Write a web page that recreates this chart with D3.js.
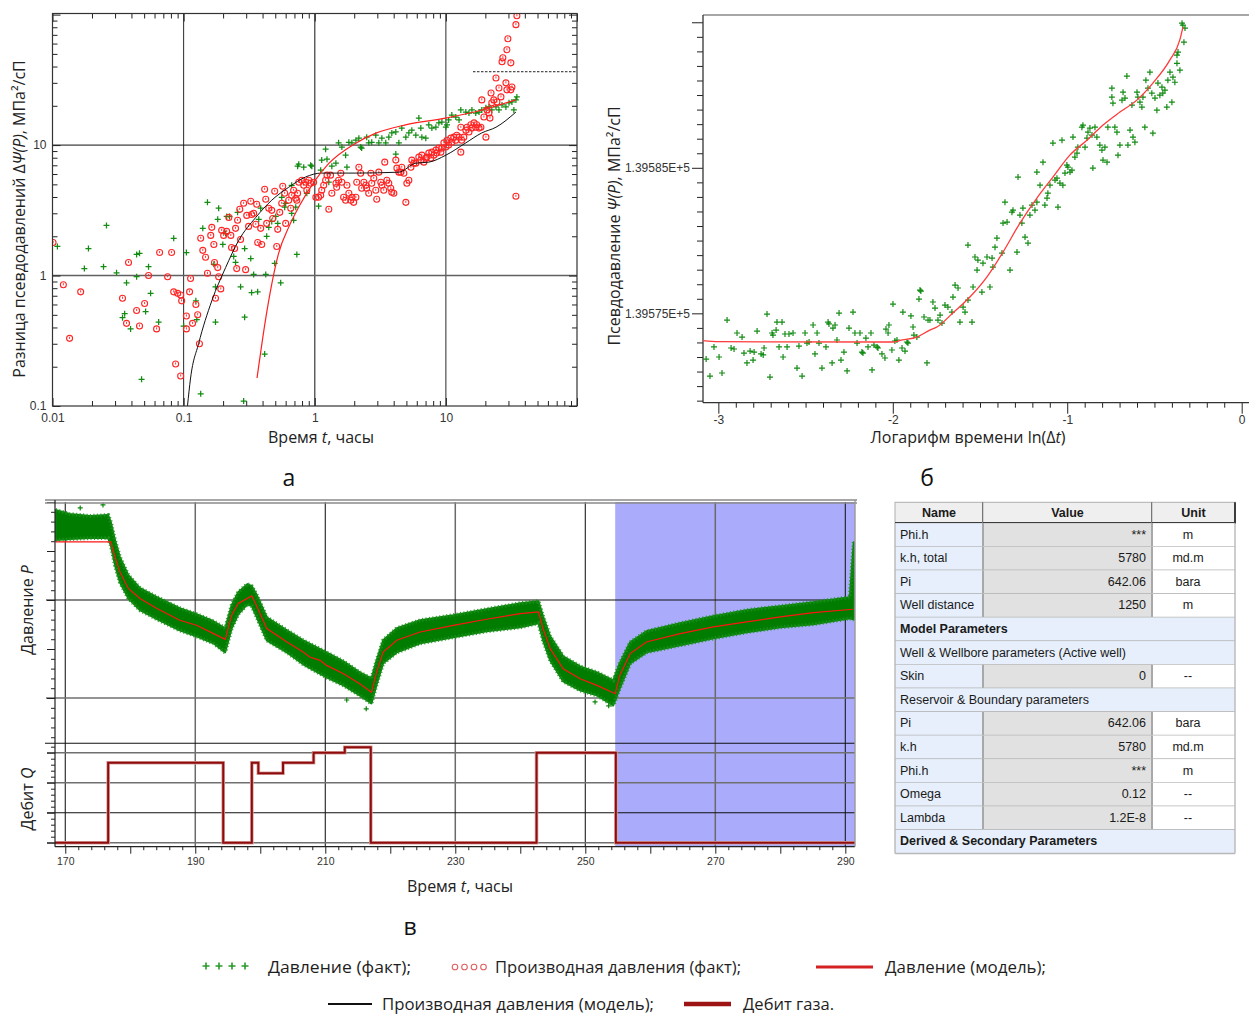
<!DOCTYPE html>
<html lang="ru">
<head>
<meta charset="utf-8">
<title>Интерпретация ГДИС</title>
<script src="https://cdn.jsdelivr.net/npm/d3@7/dist/d3.min.js"></script>
<style>
html,body{margin:0;padding:0;background:#fff;}
svg{display:block;}
</style>
</head>
<body>
<svg id="fig" width="1249" height="1015" xmlns="http://www.w3.org/2000/svg"></svg>
<script>
// ---------- Panel а: log-log diagnostic plot, [t (h), ΔΨ (МПа²/сП)] ----------
const pressureChangeFact = [
[0.0109,1.67],[0.0175,1.13],[0.0188,1.61],[0.0245,1.17],[0.0258,2.42],[0.0308,1.05],[0.0367,0.88],[0.0355,0.51],[0.0342,0.475],[0.0394,0.39],
[0.0438,1.45],[0.0461,1.48],[0.0438,0.98],[0.0513,0.53],[0.054,1.17],[0.056,0.73],[0.0478,0.16],[0.0645,0.44],[0.084,1.93],[0.105,1.5],
[0.1,0.41],[0.124,0.64],[0.126,0.46],[0.135,0.124],[0.14,2.3],[0.152,3.64],[0.175,0.44],[0.17,1.22],[0.175,0.82],[0.185,3.28],
[0.182,2.7],[0.199,1.73],[0.209,2.1],[0.213,2.84],[0.224,2.84],[0.241,1.4],[0.249,1.26],[0.258,3.05],[0.272,0.82],[0.287,0.109],
[0.292,0.48],[0.292,1.61],[0.325,1.35],[0.33,0.74],[0.342,1.02],[0.367,0.75],[0.374,2.7],[0.387,3.28],[0.415,0.25],[0.423,1.02],
[0.43,2.0],[0.446,2.34],[0.47,2.6],[0.495,1.24],[0.504,2.84],[0.522,2.51],[0.55,0.88],[0.56,3.98],[0.59,3.34],[0.6,3.58],
[0.667,4.92],[0.69,2.65],[0.73,1.45],[0.74,6.89],[0.755,7.14],[0.824,6.77],[0.716,3.34],[0.667,3.0],[0.87,4.27],[0.93,7.02],
[0.95,6.89],[1.07,3.4],[1.11,6.42],[1.13,7.67],[1.24,7.8],[1.21,9.31],[1.28,5.19],[1.35,6.89],[1.45,7.27],[1.52,10.4],
[1.61,9.66],[1.72,8.37],[1.76,6.77],[1.82,10.5],[1.92,10.4],[2.06,10.9],[2.17,11.3],[2.24,9.66],[2.28,9.48],[2.49,11.5],
[2.58,10.4],[2.72,10.5],[2.92,11.9],[3.08,10.4],[3.25,11.3],[3.48,10.4],[3.67,11.5],[3.87,12.4],[4.15,12.6],[4.15,8.53],
[4.38,10.4],[4.61,13.5],[4.95,11.5],[5.22,12.4],[5.5,13.0],[5.9,11.9],[6.22,16.1],[6.44,13.5],[6.56,11.5],[7.03,11.3],
[7.41,14.3],[7.82,13.5],[8.39,13.7],[8.84,14.8],[9.32,15.0],[10,13.7],[10.2,14.3],[10.5,15.6],[11.1,17.0],[11.9,16.4],
[12.6,15.6],[13.0,18.6],[14.2,17.9],[15.0,17.6],[15.8,18.6],[16.9,17.6],[17.9,17.9],[18.8,18.6],[20.2,19.3],[21.3,19.6],
[22.4,18.6],[24.1,19.6],[25.4,18.6],[26.8,20.3],[28.7,19.6],[30.3,21.1],[31.9,21.4],[34.2,22.2],[34.8,23.4],[33.0,18.6]
];
const derivativeFact = [
[0.0101,1.79],[0.0121,0.85],[0.0135,0.33],[0.0164,0.75],[0.0342,0.67],[0.0367,0.43],[0.038,1.26],[0.0438,0.54],[0.0461,0.41],[0.0504,0.61],
[0.054,1.0],[0.0622,0.39],[0.0656,1.5],[0.0755,0.98],[0.081,1.5],[0.084,0.75],[0.09,0.73],[0.0949,0.71],[0.0966,0.64],[0.0869,0.21],
[0.0949,0.17],[0.105,0.49],[0.105,0.39],[0.111,0.75],[0.113,0.95],[0.117,0.43],[0.124,0.6],[0.128,0.5],[0.132,0.3],[0.135,1.93],
[0.14,1.56],[0.147,1.38],[0.152,1.04],[0.161,2.03],[0.164,2.34],[0.17,1.73],[0.172,1.26],[0.175,0.67],[0.185,0.98],[0.192,0.79],
[0.182,1.15],[0.195,2.22],[0.202,2.03],[0.213,2.18],[0.221,2.79],[0.229,2.03],[0.232,1.64],[0.245,1.61],[0.249,2.3],[0.254,1.13],
[0.258,2.65],[0.268,3.22],[0.272,1.89],[0.287,3.58],[0.297,1.11],[0.303,2.89],[0.313,2.38],[0.325,3.71],[0.33,2.94],[0.342,3.0],
[0.355,2.47],[0.361,3.52],[0.367,1.79],[0.387,2.3],[0.394,1.73],[0.415,4.59],[0.423,3.84],[0.43,2.51],[0.446,3.28],[0.47,3.16],
[0.478,2.74],[0.495,4.43],[0.513,1.67],[0.522,2.26],[0.541,3.05],[0.56,3.58],[0.57,4.84],[0.59,4.27],[0.6,2.51],[0.633,3.78],
[0.656,3.28],[0.667,4.12],[0.69,4.51],[0.716,3.91],[0.74,4.27],[0.73,3.78],[0.755,5.19],[0.796,5.38],[0.824,4.92],[0.853,5.19],
[0.87,4.51],[0.9,5.38],[0.93,5.1],[0.98,5.19],[1.02,3.98],[1.07,3.98],[1.11,4.12],[1.13,4.51],[1.17,4.92],[1.21,5.38],
[1.24,5.88],[1.28,3.22],[1.32,5.88],[1.35,4.27],[1.45,5.1],[1.47,4.75],[1.52,5.38],[1.58,6.09],[1.61,5.19],[1.66,3.98],
[1.72,3.78],[1.76,4.92],[1.82,4.27],[1.88,3.78],[1.92,3.98],[1.98,3.64],[2.06,3.98],[2.09,5.19],[2.17,6.77],[2.24,6.09],
[2.28,4.67],[2.37,5.19],[2.45,4.92],[2.49,4.67],[2.58,4.27],[2.68,6.09],[2.72,5.1],[2.82,5.57],[2.92,4.51],[2.97,3.84],
[3.08,6.2],[3.19,5.19],[3.25,4.92],[3.36,4.51],[3.42,7.4],[3.55,5.38],[3.67,5.1],[3.8,4.67],[3.87,4.35],[4.01,4.27],
[4.15,7.67],[4.23,6.66],[4.38,6.2],[4.53,6.2],[4.61,6.77],[4.78,6.09],[4.95,3.64],[5.04,5.1],[5.22,5.38],[5.41,6.77],
[5.5,7.67],[5.7,7.27],[5.9,7.27],[6.22,8.09],[6.44,7.67],[6.56,8.37],[6.79,7.4],[7.03,7.94],[7.16,8.09],[7.41,8.68],
[7.68,7.94],[7.82,8.83],[8.1,8.37],[8.39,9.15],[8.53,8.68],[8.84,9.48],[9.16,8.83],[9.32,9.48],[9.66,10.4],[10,9.66],
[10.2,10.9],[10.5,10.0],[10.9,11.3],[11.1,10.5],[11.5,11.5],[11.9,10.9],[12.1,11.9],[12.6,11.5],[13.0,8.83],[13.0,13.7],
[13.2,10.9],[13.7,11.5],[14.2,13.0],[14.5,13.7],[15.0,12.6],[15.5,14.3],[15.8,13.5],[16.4,14.8],[16.9,13.7],[17.2,14.3],
[17.9,13.5],[18.5,13.7],[18.8,22.2],[19.5,16.4],[20.2,11.5],[20.6,18.6],[21.3,17.6],[21.7,16.1],[22.1,25.1],[22.4,21.1],
[23.2,22.2],[24.1,32.7],[24.5,21.4],[25.4,27.4],[26.3,23.4],[26.8,43.5],[27.2,46.7],[28.7,30.0],[29.2,26.5],[29.2,53.8],
[29.7,65.3],[31.3,42.7],[31.3,26.5],[31.9,27.9],[34.2,83.8],[34.8,98],[34.2,4.05]
];
const pressureChangeModel = [
[0.363,0.164],[0.42,0.45],[0.47,0.86],[0.53,1.48],[0.633,2.35],[0.755,3.35],[1.01,5.38],[1.28,7.23],[2.04,10.3],[2.9,12.3],
[4.92,14.3],[9.95,16.1],[16.8,18.0],[34,22.2]
];
const derivativeModel = [
[0.107,0.1],[0.113,0.164],[0.13,0.3],[0.164,0.64],[0.209,1.15],[0.263,1.86],[0.355,2.79],[0.47,3.78],[0.633,4.75],[0.853,5.7],
[1.13,6.1],[2.06,6.1],[4.38,6.2],[5.9,7.27],[7.41,7.4],[10,8.37],[14.2,10.4],[18.8,12.4],[24.1,13.7],[34.2,17.9]
];
const stabilisationLevel = {from: 16.1, to: 100, value: 36.5};
const xTickLabelsA = [0.01, 0.1, 1, 10];
const yTickLabelsA = [0.1, 1, 10];

// ---------- Panel б: semi-log plot, [ln(Δt), Ψ (МПа²/сП)] ----------
const psiFact = [
[-3.070,139571.86],[-3.048,139570.69],[-3.025,139572.69],[-2.996,139572.00],[-2.979,139570.90],[-2.950,139574.54],[-2.927,139572.62],[-2.910,139572.55],
[-2.893,139573.65],[-2.864,139573.37],[-2.853,139572.27],[-2.836,139571.59],[-2.818,139572.41],[-2.801,139571.79],[-2.795,139572.34],[-2.778,139573.78],
[-2.755,139572.21],[-2.743,139572.14],[-2.738,139572.62],[-2.721,139574.95],[-2.704,139570.62],[-2.692,139573.65],[-2.687,139573.51],[-2.669,139573.85],
[-2.664,139574.40],[-2.652,139572.69],[-2.635,139574.40],[-2.629,139572.00],[-2.618,139573.58],[-2.606,139572.69],[-2.595,139573.58],[-2.572,139573.65],
[-2.549,139571.24],[-2.538,139572.75],[-2.520,139570.69],[-2.503,139573.65],[-2.492,139572.96],[-2.480,139573.03],[-2.457,139574.20],[-2.446,139572.21],
[-2.434,139573.65],[-2.423,139572.96],[-2.406,139571.24],[-2.383,139572.69],[-2.371,139574.40],[-2.366,139574.27],[-2.348,139571.59],[-2.343,139573.99],
[-2.331,139574.20],[-2.320,139573.17],[-2.308,139575.02],[-2.297,139571.79],[-2.280,139572.34],[-2.262,139571.04],[-2.251,139573.99],[-2.228,139575.09],
[-2.217,139573.65],[-2.205,139572.96],[-2.188,139573.65],[-2.177,139572.34],[-2.171,139572.27],[-2.154,139573.30],[-2.142,139572.69],[-2.125,139573.65],
[-2.119,139571.11],[-2.108,139572.82],[-2.090,139572.69],[-2.085,139572.62],[-2.062,139572.21],[-2.045,139571.93],[-2.039,139573.92],[-2.027,139573.65],
[-2.022,139574.20],[-2.005,139572.48],[-1.999,139575.64],[-1.988,139573.10],[-1.976,139573.17],[-1.965,139571.79],[-1.947,139572.62],[-1.942,139575.09],
[-1.930,139572.41],[-1.919,139573.03],[-1.913,139572.96],[-1.896,139574.82],[-1.884,139574.06],[-1.879,139573.51],[-1.862,139573.37],[-1.850,139575.98],
[-1.839,139576.53],[-1.821,139574.75],[-1.804,139571.59],[-1.798,139574.54],[-1.844,139576.60],[-1.787,139574.54],[-1.770,139575.78],[-1.758,139575.36],
[-1.741,139574.54],[-1.729,139574.88],[-1.718,139574.33],[-1.701,139575.57],[-1.684,139575.43],[-1.661,139575.09],[-1.655,139576.12],[-1.643,139576.94],
[-1.626,139576.74],[-1.615,139574.40],[-1.597,139575.43],[-1.586,139575.09],[-1.569,139579.69],[-1.569,139575.91],[-1.546,139574.40],[-1.540,139576.81],
[-1.529,139578.87],[-1.517,139577.97],[-1.512,139578.66],[-1.489,139576.46],[-1.483,139578.45],[-1.460,139578.87],[-1.443,139576.81],[-1.431,139578.80],
[-1.426,139578.18],[-1.414,139579.55],[-1.403,139580.17],[-1.374,139579.14],[-1.368,139581.20],[-1.357,139582.64],[-1.345,139581.27],[-1.328,139577.97],
[-1.317,139581.95],[-1.311,139582.09],[-1.288,139579.21],[-1.282,139584.36],[-1.271,139581.75],[-1.260,139581.20],[-1.254,139582.23],[-1.242,139580.24],
[-1.225,139579.83],[-1.214,139581.75],[-1.202,139582.44],[-1.185,139582.09],[-1.174,139582.64],[-1.174,139584.71],[-1.156,139583.81],[-1.139,139585.39],
[-1.128,139582.44],[-1.116,139582.92],[-1.111,139583.26],[-1.099,139583.81],[-1.082,139586.70],[-1.070,139584.16],[-1.059,139584.29],[-1.053,139582.30],
[-1.042,139583.95],[-1.030,139586.90],[-1.025,139583.81],[-1.013,139584.64],[-1.002,139585.19],[-0.996,139585.05],[-0.984,139584.71],[-0.973,139584.84],
[-0.967,139587.11],[-0.956,139585.74],[-0.944,139586.01],[-0.939,139586.42],[-0.916,139587.79],[-0.910,139587.93],[-0.898,139586.42],[-0.887,139587.04],
[-0.881,139587.45],[-0.870,139587.73],[-0.858,139587.25],[-0.853,139584.98],[-0.841,139587.79],[-0.830,139587.11],[-0.813,139586.56],[-0.801,139586.22],
[-0.795,139585.53],[-0.784,139586.42],[-0.772,139585.39],[-0.767,139587.79],[-0.744,139590.47],[-0.744,139589.86],[-0.738,139589.44],[-0.727,139587.79],
[-0.715,139587.45],[-0.709,139585.87],[-0.698,139586.56],[-0.686,139589.65],[-0.680,139590.20],[-0.669,139589.79],[-0.658,139591.30],[-0.652,139586.56],
[-0.640,139587.59],[-0.629,139589.31],[-0.623,139587.11],[-0.612,139586.76],[-0.600,139590.20],[-0.595,139589.86],[-0.583,139589.51],[-0.572,139589.17],
[-0.566,139589.86],[-0.555,139587.79],[-0.549,139591.02],[-0.537,139590.47],[-0.526,139591.57],[-0.515,139590.13],[-0.509,139587.38],[-0.497,139589.79],
[-0.486,139588.96],[-0.480,139590.82],[-0.469,139589.99],[-0.457,139590.54],[-0.452,139590.13],[-0.440,139590.34],[-0.429,139589.17],[-0.423,139591.02],
[-0.411,139591.57],[-0.400,139589.51],[-0.394,139591.23],[-0.383,139590.88],[-0.371,139592.18],[-0.371,139592.74],[-0.365,139592.95],[-0.354,139591.71],
[-0.342,139594.94],[-0.337,139594.80],[-0.331,139593.63],[-0.325,139594.60]
];
const psiModel = [
[-3.088,139573.12],[-3.0,139573.05],[-2.0,139573.03],[-1.945,139573.17],[-1.862,139573.37],[-1.788,139573.85],[-1.747,139574.06],[-1.656,139575.02],
[-1.558,139576.12],[-1.461,139577.49],[-1.368,139579.21],[-1.271,139581.2],[-1.174,139582.92],[-1.082,139584.36],[-0.985,139585.87],[-0.887,139586.9],
[-0.796,139587.93],[-0.698,139588.83],[-0.601,139589.65],[-0.509,139590.82],[-0.412,139592.4],[-0.355,139593.77],[-0.337,139594.66]
];
const psiTickLabels = [139575, 139585];

// ---------- Panel в: history plot ----------
// measured pressure: envelope of the dense gauge record, bar
const historyTime  = [168.5,170.7,173.8,176.6,177.0,177.65,178.4,179.7,181.5,184.1,187.6,190.2,192.8,194.6,195.6,196.6,198.0,198.7,199.4,201.0,204.1,206.6,210.2,212.8,215.3,217.1,217.9,218.9,221.0,224.6,229.7,234.8,240.0,242.8,243.5,244.6,246.6,249.2,251.8,254.3,255.3,256.9,259.4,264.6,269.7,274.8,280.0,285.1,290.7,291.3];
const historyHigh  = [639.18,638.77,638.57,638.67,637.96,636.11,634.38,632.54,631.21,630.29,629.16,628.55,627.83,627.12,629.47,630.80,631.62,631.41,630.59,628.24,626.91,625.89,624.66,623.74,622.62,622.0,623.84,625.89,627.12,627.93,628.45,629.06,629.67,629.88,628.34,626.30,624.25,623.23,622.62,621.80,623.54,625.69,626.81,627.63,628.34,628.96,629.37,629.78,630.29,635.9];
const historyLow   = [636.11,636.22,636.32,636.32,635.60,633.56,631.82,630.18,628.96,628.04,626.91,626.30,625.58,624.66,627.12,628.55,629.57,629.37,628.34,625.89,624.66,623.44,622.11,621.29,620.27,619.45,621.39,623.54,624.66,625.58,626.20,626.81,627.22,627.63,625.89,623.84,621.70,620.78,620.27,619.24,620.98,623.54,624.66,625.38,626.09,626.71,627.22,627.53,628.14,628.0];
const historyOutliers = [[172.3,639.4],[175.8,639.7],[216.3,618.9],[213.3,619.8],[251.5,619.6],[253.6,619.2]];
// simulated pressure, bar
const modelTime     = [168.5,177.0,177.65,178.4,179.7,181.5,184.1,187.6,190.2,192.8,194.6,195.6,196.6,198.7,199.4,201.0,204.1,206.6,207.6,209.2,210.2,212.8,215.3,217.1,217.9,218.9,221.0,224.6,229.7,234.8,240.0,242.8,243.5,244.6,246.6,249.2,251.8,254.6,255.3,256.9,259.4,264.6,269.7,274.8,280.0,285.1,291.2];
const modelPressure = [635.94,635.94,634.41,632.87,631.18,630.16,629.13,627.93,627.42,626.57,625.99,628.45,629.64,630.42,629.47,627.09,625.72,624.69,624.18,623.84,623.33,622.48,621.46,620.60,622.65,624.69,625.89,626.74,627.42,628.04,628.62,628.78,627.09,625.04,622.99,621.97,621.29,620.44,622.31,624.53,625.72,626.57,627.25,627.76,628.27,628.72,629.06];
// gas rate history (step after each time)
const rateTime  = [168.4,176.6,194.3,198.7,199.7,203.5,208.2,213.0,217.0,242.5,254.7,291.5];
const rateValue = [0,80,0,80,69.4,80,90,95.4,0,90,0,0];
const analysedFrom = 254.6;
const timeTicksC = d3.range(170, 291, 20);

// ---------- Parameter table ----------
const tableHeader = ["Name","Value","Unit"];
const tableRows = [
  {name:"Phi.h", value:"***", unit:"m"},
  {name:"k.h, total", value:"5780", unit:"md.m"},
  {name:"Pi", value:"642.06", unit:"bara"},
  {name:"Well distance", value:"1250", unit:"m"},
  {section:"Model Parameters", bold:true},
  {section:"Well & Wellbore parameters (Active well)"},
  {name:"Skin", value:"0", unit:"--"},
  {section:"Reservoir & Boundary parameters"},
  {name:"Pi", value:"642.06", unit:"bara"},
  {name:"k.h", value:"5780", unit:"md.m"},
  {name:"Phi.h", value:"***", unit:"m"},
  {name:"Omega", value:"0.12", unit:"--"},
  {name:"Lambda", value:"1.2E-8", unit:"--"},
  {section:"Derived & Secondary Parameters", bold:true}
];

// ---------- Legend ----------
const legendItems = [
  {kind:"plus",   label:"Давление (факт);",               x:202, y:967, tx:268, w:143},
  {kind:"circle", label:"Производная давления (факт);",   x:452, y:967, tx:495, w:246},
  {kind:"line",   label:"Давление (модель);",             x:816, y:967, tx:885, w:161, x2:873, color:"#d42222", sw:3},
  {kind:"line",   label:"Производная давления (модель);", x:328, y:1004, tx:382, w:272, x2:372, color:"#111", sw:2},
  {kind:"line",   label:"Дебит газа.",                    x:684, y:1004, tx:743, w:91,  x2:731, color:"#9e1414", sw:4.5}
];

// =====================================================================
const svg = d3.select("#fig");
const defs = svg.append("defs");
const SANS = "'Open Sans','DejaVu Sans',sans-serif";
const ARIAL = "'Liberation Sans',Arial,sans-serif";
const GREEN = "#138c13";
const RED = "#ff2525";

const plusPath = (x, y, r) => `M${x - r},${y}H${x + r}M${x},${y - r}V${y + r}`;
const isDecade = v => Math.abs(Math.log10(v) - Math.round(Math.log10(v))) < 1e-9;

function logTicks(lo, hi) {
  const out = [];
  for (let e = Math.floor(Math.log10(lo)); e <= Math.ceil(Math.log10(hi)); e++) {
    for (let k = 1; k < 10; k++) {
      const v = +(k * Math.pow(10, e)).toPrecision(3);
      if (v >= lo * 0.999 && v <= hi * 1.001) out.push(v);
    }
  }
  return out;
}

function richText(parent, x, y, parts, size, rotate) {
  const t = parent.append("text")
    .attr("transform", `translate(${x},${y})` + (rotate ? " rotate(-90)" : ""))
    .attr("text-anchor", "middle").attr("dy", "0.35em")
    .attr("font-family", SANS).attr("font-size", size).attr("fill", "#222");
  parts.forEach(p => {
    const s = t.append("tspan").text(p[0]);
    if (p[1]) s.attr("font-style", "italic");
  });
  return t;
}

function styleAxis(g) {
  g.select(".domain").remove();
  g.selectAll(".tick line").attr("stroke", "#222").attr("stroke-width", 1);
  g.selectAll(".tick text").attr("font-family", ARIAL).attr("fill", "#333");
}

// ===================== Panel а =====================
const A = {l: 52.5, r: 577, t: 13.5, b: 406};
const xA = d3.scaleLog().domain([0.01, 100]).range([A.l, A.r]);
const yA = d3.scaleLog().domain([0.1, 102]).range([A.b, A.t]);
defs.append("clipPath").attr("id", "clipA").append("rect")
  .attr("x", A.l).attr("y", A.t).attr("width", A.r - A.l).attr("height", A.b - A.t);
const gA = svg.append("g");

gA.selectAll(".vgA").data([0.1, 1, 10]).join("line")
  .attr("x1", d => xA(d)).attr("x2", d => xA(d)).attr("y1", A.t).attr("y2", A.b)
  .attr("stroke", d => d === 1 ? "#555" : "#2a2a2a").attr("stroke-width", d => d === 1 ? 1.4 : 1);
gA.selectAll(".hgA").data([1, 10]).join("line")
  .attr("x1", A.l).attr("x2", A.r).attr("y1", d => yA(d)).attr("y2", d => yA(d))
  .attr("stroke", d => d === 1 ? "#606060" : "#111").attr("stroke-width", d => d === 1 ? 1.5 : 1);

const xTicksA = logTicks(0.01, 100);
const yTicksA = logTicks(0.1, 100);
const fmtX = v => xTickLabelsA.includes(v) ? String(v) : "";
const fmtY = v => yTickLabelsA.includes(v) ? String(v) : "";

const axA1 = gA.append("g").attr("transform", `translate(0,${A.b})`)
  .call(d3.axisBottom(xA).tickValues(xTicksA).tickSizeInner(-5).tickSizeOuter(0).tickPadding(7).tickFormat(fmtX));
styleAxis(axA1);
axA1.selectAll(".tick line").attr("y2", d => isDecade(d) ? -8 : -5);
axA1.selectAll(".tick text").attr("font-size", 12);

const axA2 = gA.append("g").attr("transform", `translate(0,${A.t})`)
  .call(d3.axisTop(xA).tickValues(xTicksA).tickSizeInner(-5).tickSizeOuter(0).tickFormat(""));
styleAxis(axA2);
axA2.selectAll(".tick line").attr("y2", d => isDecade(d) ? 8 : 5);

const axA3 = gA.append("g").attr("transform", `translate(${A.l},0)`)
  .call(d3.axisLeft(yA).tickValues(yTicksA).tickSizeInner(-5).tickSizeOuter(0).tickPadding(6).tickFormat(fmtY));
styleAxis(axA3);
axA3.selectAll(".tick line").attr("x2", d => isDecade(d) ? 8 : 5);
axA3.selectAll(".tick text").attr("font-size", 12);

const axA4 = gA.append("g").attr("transform", `translate(${A.r},0)`)
  .call(d3.axisRight(yA).tickValues(yTicksA).tickSizeInner(-5).tickSizeOuter(0).tickFormat(""));
styleAxis(axA4);
axA4.selectAll(".tick line").attr("x2", d => isDecade(d) ? -8 : -5);

const dA = gA.append("g").attr("clip-path", "url(#clipA)");
dA.append("line")
  .attr("x1", xA(stabilisationLevel.from)).attr("x2", xA(stabilisationLevel.to))
  .attr("y1", yA(stabilisationLevel.value)).attr("y2", yA(stabilisationLevel.value))
  .attr("stroke", "#222").attr("stroke-width", 1).attr("stroke-dasharray", "2.5,1.5");

dA.append("path").attr("fill", "none").attr("stroke", GREEN).attr("stroke-width", 1.25)
  .attr("d", pressureChangeFact.map(d => plusPath(xA(d[0]), yA(d[1]), 3)).join(""));

const circA = dA.append("g").selectAll("g").data(derivativeFact).join("g")
  .attr("transform", d => `translate(${xA(d[0])},${yA(d[1])})`);
circA.append("circle").attr("r", 3).attr("fill", "none").attr("stroke", RED).attr("stroke-width", 1.1);
circA.append("line").attr("x1", 0).attr("x2", 0).attr("y1", -1.6).attr("y2", 0.6)
  .attr("stroke", RED).attr("stroke-width", 0.9);

const lineA = d3.line().x(d => xA(d[0])).y(d => yA(d[1])).curve(d3.curveMonotoneX);
dA.append("path").attr("d", lineA(derivativeModel)).attr("fill", "none").attr("stroke", "#111").attr("stroke-width", 1);
dA.append("path").attr("d", lineA(pressureChangeModel)).attr("fill", "none").attr("stroke", "#ff2020").attr("stroke-width", 1.2);

gA.append("rect").attr("x", A.l).attr("y", A.t).attr("width", A.r - A.l).attr("height", A.b - A.t)
  .attr("fill", "none").attr("stroke", "#333").attr("stroke-width", 1.2);

richText(gA, 19, 219, [["Разница псевдодавлений Δ"], ["Ψ(P)", true], [", МПа²/сП"]], 16, true);
richText(gA, 321, 437, [["Время "], ["t", true], [", часы"]], 16);

// ===================== Panel б =====================
const B = {l: 703, r: 1249, t: 15, b: 402.7};
const xB = d3.scaleLinear().domain([-3.088, 0.042]).range([B.l, B.r]);
const yB = d3.scaleLinear().domain([139568.86, 139595.5]).range([B.b, B.t]);
defs.append("clipPath").attr("id", "clipB").append("rect")
  .attr("x", B.l).attr("y", B.t).attr("width", B.r - B.l).attr("height", B.b - B.t);
const gB = svg.append("g");

const xTicksB = d3.range(-30, 1).map(i => i / 10);
const isInt = v => Math.abs(v - Math.round(v)) < 1e-9;
const axB1 = gB.append("g").attr("transform", `translate(0,${B.b})`)
  .call(d3.axisBottom(xB).tickValues(xTicksB).tickSizeInner(5).tickSizeOuter(0).tickPadding(8)
    .tickFormat(v => isInt(v) ? String(Math.round(v)) : ""));
styleAxis(axB1);
axB1.selectAll(".tick line").attr("y2", d => isInt(d) ? 11 : 5);
axB1.selectAll(".tick text").attr("font-size", 12);

const yTicksB = d3.range(139569, 139596);
const axB2 = gB.append("g").attr("transform", `translate(${B.l},0)`)
  .call(d3.axisLeft(yB).tickValues(yTicksB).tickSizeInner(5).tickSizeOuter(0).tickPadding(8)
    .tickFormat(v => psiTickLabels.includes(v) ? (v / 1e5).toFixed(5) + "E+5" : ""));
styleAxis(axB2);
axB2.selectAll(".tick line").attr("x2", d => d % 10 === 5 ? -11 : -6);
axB2.selectAll(".tick text").attr("font-size", 12);

gB.append("line").attr("x1", B.l).attr("x2", B.r).attr("y1", B.t).attr("y2", B.t).attr("stroke", "#8a8a8a").attr("stroke-width", 1.5);
gB.append("line").attr("x1", B.l).attr("x2", B.l).attr("y1", B.t).attr("y2", B.b).attr("stroke", "#333").attr("stroke-width", 1.3);
gB.append("line").attr("x1", B.l).attr("x2", B.r).attr("y1", B.b).attr("y2", B.b).attr("stroke", "#333").attr("stroke-width", 1.3);

const dB = gB.append("g").attr("clip-path", "url(#clipB)");
dB.append("path").attr("fill", "none").attr("stroke", GREEN).attr("stroke-width", 1.2)
  .attr("d", psiFact.map(d => plusPath(xB(d[0]), yB(d[1]), 3)).join(""));
dB.append("path").attr("d", d3.line().x(d => xB(d[0])).y(d => yB(d[1])).curve(d3.curveMonotoneX)(psiModel))
  .attr("fill", "none").attr("stroke", "#ff3a3a").attr("stroke-width", 1.3);

richText(gB, 614, 226, [["Псевдодавление "], ["Ψ(P)", true], [", МПа²/сП"]], 16, true);
richText(gB, 968, 437, [["Логарифм времени ln(Δ"], ["t", true], [")"]], 16);

// ===================== Panel в =====================
const C = {l: 55, r: 855, t: 502, mid: 743.3, b: 846.7};
const xC = d3.scaleLinear().domain([168.42, 291.49]).range([C.l, C.r]);
const yP = d3.scaleLinear().domain([615.38, 640]).range([C.mid, C.t]);
const yQ = d3.scaleLinear().domain([0, 90]).range([842.7, 752.7]);
defs.append("clipPath").attr("id", "clipP").append("rect")
  .attr("x", C.l).attr("y", C.t).attr("width", C.r - C.l).attr("height", C.mid - C.t);
defs.append("clipPath").attr("id", "clipQ").append("rect")
  .attr("x", C.l).attr("y", C.mid).attr("width", C.r - C.l).attr("height", C.b - C.mid);
const gC = svg.append("g");

// analysed interval
gC.append("rect").attr("x", xC(analysedFrom)).attr("y", C.t).attr("width", C.r - xC(analysedFrom)).attr("height", C.b - C.t)
  .attr("fill", "#aaacfb");

// grid
gC.selectAll(".vgC").data(timeTicksC).join("line")
  .attr("x1", d => xC(d)).attr("x2", d => xC(d)).attr("y1", C.t).attr("y2", C.b)
  .attr("stroke", (d, i) => i % 2 ? "#6a6a6a" : "#1e1e1e").attr("stroke-width", (d, i) => i % 2 ? 1.5 : 1.1);
gC.selectAll(".hgP").data([630, 620]).join("line")
  .attr("x1", 46).attr("x2", C.r).attr("y1", d => yP(d)).attr("y2", d => yP(d))
  .attr("stroke", (d, i) => i ? "#707070" : "#111").attr("stroke-width", (d, i) => i ? 1.6 : 1.1);
gC.selectAll(".hgQ").data([90, 60, 30, 0]).join("line")
  .attr("x1", 47).attr("x2", C.r).attr("y1", d => yQ(d)).attr("y2", d => yQ(d))
  .attr("stroke", d => d === 30 ? "#111" : "#707070").attr("stroke-width", d => d === 30 ? 1.1 : 1.5);
gC.append("line").attr("x1", 45).attr("x2", C.r).attr("y1", C.mid).attr("y2", C.mid).attr("stroke", "#111").attr("stroke-width", 1.1);

// measured pressure band (with ragged edges of the dense record), outliers and model
const dP = gC.append("g").attr("clip-path", "url(#clipP)");
const bandIdx = d3.range(historyTime.length);
dP.append("path").datum(bandIdx)
  .attr("d", d3.area().x(i => xC(historyTime[i])).y0(i => yP(historyLow[i])).y1(i => yP(historyHigh[i])))
  .attr("fill", "#007d00").attr("stroke", "#0a850a").attr("stroke-width", 2).attr("stroke-linejoin", "round");
[historyHigh, historyLow].forEach(edge => {
  dP.append("path").datum(bandIdx)
    .attr("d", d3.line().x(i => xC(historyTime[i])).y(i => yP(edge[i])))
    .attr("fill", "none").attr("stroke", "#1c8f1c").attr("stroke-width", 4)
    .attr("stroke-dasharray", "1.2,2.3").attr("opacity", 0.85);
});
dP.append("path").attr("fill", "none").attr("stroke", "#0a850a").attr("stroke-width", 1.2)
  .attr("d", historyOutliers.map(d => plusPath(xC(d[0]), yP(d[1]), 2.5)).join(""));
dP.append("path").datum(d3.range(modelTime.length))
  .attr("d", d3.line().x(i => xC(modelTime[i])).y(i => yP(modelPressure[i])))
  .attr("fill", "none").attr("stroke", "#ff1414").attr("stroke-width", 1.2);

// gas rate
const dQ = gC.append("g").attr("clip-path", "url(#clipQ)");
const rateLine = d3.line().x(i => xC(rateTime[i])).y(i => yQ(rateValue[i])).curve(d3.curveStepAfter);
dQ.append("path").datum(d3.range(rateTime.length)).attr("d", rateLine)
  .attr("fill", "none").attr("stroke", "#d9a0a0").attr("stroke-width", 3.6);
dQ.append("path").datum(d3.range(rateTime.length)).attr("d", rateLine)
  .attr("fill", "none").attr("stroke", "#8e0c0c").attr("stroke-width", 2);

// axes
const xTicksC = d3.range(170, 291, 2);
const axC1 = gC.append("g").attr("transform", `translate(0,${C.b})`)
  .call(d3.axisBottom(xC).tickValues(xTicksC).tickSizeInner(4).tickSizeOuter(0).tickPadding(7)
    .tickFormat(v => timeTicksC.includes(v) ? String(v) : ""));
styleAxis(axC1);
axC1.selectAll(".tick line").attr("y2", d => d % 10 === 0 ? 7 : 3.5);
axC1.selectAll(".tick text").attr("font-size", 10.5);

const axC2 = gC.append("g").attr("transform", `translate(${C.l},0)`)
  .call(d3.axisLeft(yP).tickValues(d3.range(616, 641)).tickSizeInner(4).tickSizeOuter(0).tickFormat(""));
styleAxis(axC2);
axC2.selectAll(".tick line").attr("x2", d => d % 5 === 0 ? -8 : -4);

const axC3 = gC.append("g").attr("transform", `translate(${C.l},0)`)
  .call(d3.axisLeft(yQ).tickValues(d3.range(0, 97, 6)).tickSizeInner(4).tickSizeOuter(0).tickFormat(""));
styleAxis(axC3);
axC3.selectAll(".tick line").attr("x2", d => d % 30 === 0 ? -8 : -4);

// frame
gC.append("line").attr("x1", 45).attr("x2", 857).attr("y1", 500).attr("y2", 500).attr("stroke", "#8a8a8a").attr("stroke-width", 1.4);
gC.append("line").attr("x1", 45).attr("x2", 857).attr("y1", 503).attr("y2", 503).attr("stroke", "#8a8a8a").attr("stroke-width", 1.4);
gC.append("line").attr("x1", C.l).attr("x2", C.l).attr("y1", 500).attr("y2", C.b).attr("stroke", "#222").attr("stroke-width", 1.2);
gC.append("line").attr("x1", C.l).attr("x2", C.r).attr("y1", C.b).attr("y2", C.b).attr("stroke", "#222").attr("stroke-width", 1.2);
gC.append("line").attr("x1", C.r).attr("x2", C.r).attr("y1", 500).attr("y2", C.b).attr("stroke", "#999").attr("stroke-width", 1.4);

richText(gC, 27, 610, [["Давление "], ["P", true]], 16, true);
richText(gC, 27, 799, [["Дебит "], ["Q", true]], 16, true);
richText(gC, 460, 886, [["Время "], ["t", true], [", часы"]], 16);

// ===================== Table =====================
const T = {x: [895, 983, 1152, 1235], top: 502.3, headH: 20.8, rowH: 23.6};
const gT = svg.append("g").attr("font-family", ARIAL).attr("font-size", 12.5).attr("fill", "#1a1a1a");
tableHeader.forEach((h, i) => {
  const x0 = T.x[i], x1 = T.x[i + 1];
  gT.append("rect").attr("x", x0).attr("y", T.top).attr("width", x1 - x0).attr("height", T.headH)
    .attr("fill", "#efefef").attr("stroke", "#b0b0b0").attr("stroke-width", 1);
  gT.append("path").attr("d", `M${x0},${T.top + T.headH}H${x1}V${T.top}`)
    .attr("fill", "none").attr("stroke", "#3c3c3c").attr("stroke-width", 2);
  gT.append("text").attr("x", (x0 + x1) / 2).attr("y", T.top + 14.5).attr("text-anchor", "middle")
    .attr("font-weight", "bold").text(h);
});
const bodyTop = T.top + T.headH;
tableRows.forEach((r, i) => {
  const y = bodyTop + i * T.rowH;
  if (r.section) {
    gT.append("rect").attr("x", T.x[0]).attr("y", y).attr("width", T.x[3] - T.x[0]).attr("height", T.rowH)
      .attr("fill", "#e6effb");
    gT.append("text").attr("x", T.x[0] + 5).attr("y", y + 15.5).attr("font-weight", r.bold ? "bold" : "normal").text(r.section);
  } else {
    const fills = ["#e6effb", "#e1e1e1", "#ffffff"];
    fills.forEach((f, j) => gT.append("rect").attr("x", T.x[j]).attr("y", y)
      .attr("width", T.x[j + 1] - T.x[j]).attr("height", T.rowH).attr("fill", f));
    [T.x[1], T.x[2]].forEach(xx => gT.append("line").attr("x1", xx).attr("x2", xx).attr("y1", y).attr("y2", y + T.rowH)
      .attr("stroke", "#a8a8a8").attr("stroke-width", 2));
    gT.append("text").attr("x", T.x[0] + 5).attr("y", y + 15.5).text(r.name);
    gT.append("text").attr("x", T.x[2] - 6).attr("y", y + 15.5).attr("text-anchor", "end").text(r.value);
    gT.append("text").attr("x", 1188).attr("y", y + 15.5).attr("text-anchor", "middle").text(r.unit);
  }
  gT.append("line").attr("x1", T.x[0]).attr("x2", T.x[3]).attr("y1", y + T.rowH).attr("y2", y + T.rowH)
    .attr("stroke", "#b8b8b8").attr("stroke-width", 1.6);
});
const tableBottom = bodyTop + tableRows.length * T.rowH;
gT.append("line").attr("x1", T.x[0]).attr("x2", T.x[0]).attr("y1", bodyTop).attr("y2", tableBottom).attr("stroke", "#b8b8b8").attr("stroke-width", 1.4);
gT.append("line").attr("x1", T.x[3]).attr("x2", T.x[3]).attr("y1", bodyTop).attr("y2", tableBottom).attr("stroke", "#b8b8b8").attr("stroke-width", 1.4);

// ===================== Panel letters =====================
[["а", 289, 486], ["б", 927, 486], ["в", 410, 935]].forEach(([s, x, y]) =>
  svg.append("text").attr("x", x).attr("y", y).attr("text-anchor", "middle")
    .attr("font-family", SANS).attr("font-size", 23).attr("fill", "#111").text(s));

// ===================== Legend =====================
const gL = svg.append("g");
legendItems.forEach(it => {
  if (it.kind === "plus") {
    gL.append("path").attr("fill", "none").attr("stroke", "#2a9a2a").attr("stroke-width", 1.6)
      .attr("d", d3.range(4).map(k => plusPath(it.x + 4 + k * 13, it.y - 1, 3.5)).join(""));
  } else if (it.kind === "circle") {
    gL.selectAll(null).data(d3.range(4)).join("circle")
      .attr("cx", k => it.x + 3 + k * 9.5).attr("cy", it.y).attr("r", 2.8)
      .attr("fill", "none").attr("stroke", "#e06060").attr("stroke-width", 1.1);
  } else {
    gL.append("line").attr("x1", it.x).attr("x2", it.x2).attr("y1", it.y).attr("y2", it.y)
      .attr("stroke", it.color).attr("stroke-width", it.sw);
  }
  gL.append("text").attr("x", it.tx).attr("y", it.y + 6).attr("font-family", SANS).attr("font-size", 17)
    .attr("fill", "#1e1e1e").attr("textLength", it.w).attr("lengthAdjust", "spacingAndGlyphs").text(it.label);
});
</script>
</body>
</html>
